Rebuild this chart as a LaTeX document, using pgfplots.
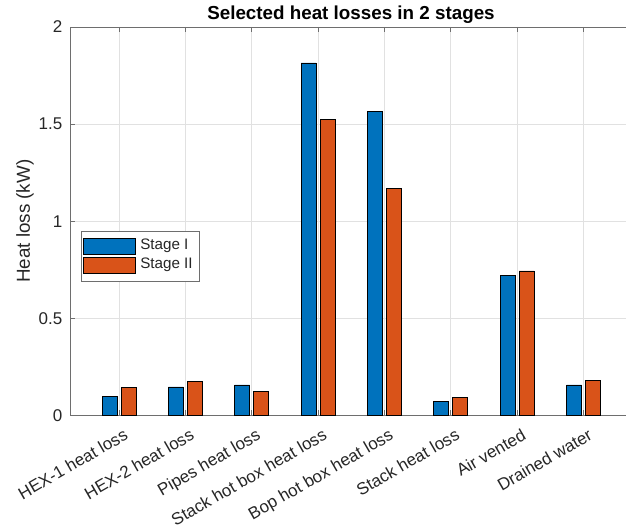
\documentclass[border=0pt]{standalone}
\usepackage{fontspec}
\setmainfont{Liberation Sans}
\usepackage{pgfplots}
\pgfplotsset{compat=1.18}
\definecolor{mblue}{RGB}{0,114,189}
\definecolor{morange}{RGB}{217,83,25}
\definecolor{axcol}{RGB}{110,110,110}
\definecolor{ticktext}{RGB}{38,38,38}
\definecolor{gridgray}{RGB}{225,225,225}
\begin{document}
\begin{tikzpicture}
\useasboundingbox (0,0) rectangle (626pt,529pt);
\clip (0,0) rectangle (626pt,529pt);
\begin{axis}[
  at={(70pt,113.5pt)}, anchor=south west,
  scale only axis, width=562pt, height=388.5pt,
  xmin=0.2616, xmax=8.7306, ymin=0, ymax=2,
  ybar, bar width=15pt,
  xtick={1,2,3,4,5,6,7,8},
  xticklabels={HEX-1 heat loss, HEX-2 heat loss, Pipes heat loss, Stack hot box heat loss, Bop hot box heat loss, Stack heat loss, Air vented, Drained water},
  ytick={0,0.5,1,1.5,2},
  yticklabels={0,0.5,1,1.5,2},
  tick align=inside, major tick length=5pt,
  grid=major, major grid style={draw=gridgray, line width=0.8pt},
  axis line style={draw=axcol, line width=0.9pt},
  every tick/.style={draw=axcol, line width=0.9pt},
  tick label style={font=\fontsize{17}{20}\selectfont, text=ticktext},
  /pgf/number format/assume math mode=true,
  yticklabel style={anchor=east, inner sep=0pt, xshift=-7.5pt},
  xticklabel style={inner sep=0pt, xshift=3.8pt, yshift=-12.2pt, rotate=30, anchor=north east},
  ylabel={Heat loss (kW)},
  every axis y label/.style={at={(axis description cs:-0.0801,0.5)}, rotate=90, anchor=center, font=\fontsize{18.8}{22}\selectfont, text=ticktext},
  legend style={at={(axis description cs:0.0196,0.475)}, anchor=north west, draw=axcol, line width=0.8pt, fill=white, font=\fontsize{15.2}{18}\selectfont, text=ticktext, inner xsep=2pt, inner ysep=6pt, row sep=0pt, nodes={inner sep=1.5pt, text height=11pt, text depth=5pt}},
  legend cell align=left,
  legend image code/.code={\draw[#1, line width=0.8pt] (0pt,-8pt) rectangle (52pt,8pt); \path[draw=none, fill=none] (55pt,0pt) circle (0pt);},
]
\addplot[fill=mblue, draw=black, line width=0.8pt, bar shift=-9.5pt] coordinates {
  (1,0.097) (2,0.147) (3,0.157) (4,1.815) (5,1.563) (6,0.071) (7,0.719) (8,0.157)};
\addplot[fill=morange, draw=black, line width=0.8pt, bar shift=9.5pt] coordinates {
  (1,0.143) (2,0.176) (3,0.124) (4,1.526) (5,1.170) (6,0.093) (7,0.744) (8,0.179)};
\legend{Stage I\kern2.7pt, Stage II\kern2.7pt}
\end{axis}
\node[anchor=base, font=\bfseries\fontsize{18.8}{22}\selectfont] at (351pt,509pt) {Selected heat losses in 2 stages};
\end{tikzpicture}
\end{document}
